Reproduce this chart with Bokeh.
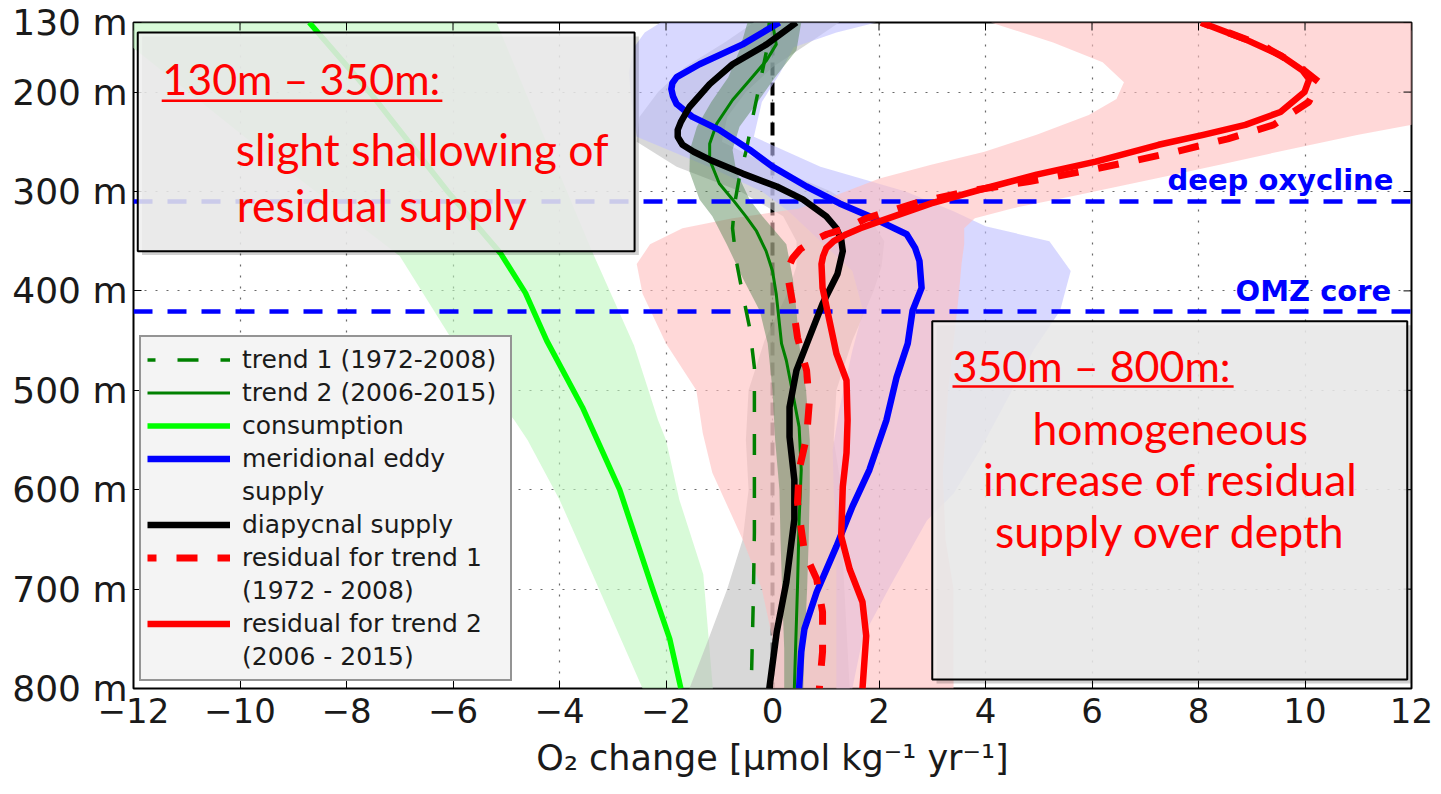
import math
from bokeh.plotting import figure
from bokeh.models import (Range1d, FixedTicker, Legend, LegendItem, BoxAnnotation, Label)
from bokeh.embed import file_html
from bokeh.resources import INLINE

# ---------------- data ----------------
x_ticks = [-12, -10, -8, -6, -4, -2, 0, 2, 4, 6, 8, 10, 12]
x_tick_labels = ["\u221212", "\u221210", "\u22128", "\u22126", "\u22124", "\u22122",
                 "0", "2", "4", "6", "8", "10", "12"]
depth_ticks = [130, 200, 300, 400, 500, 600, 700, 800]
depth_tick_labels = ["130 m", "200 m", "300 m", "400 m", "500 m", "600 m", "700 m", "800 m"]

reference_depths = [310, 421]          # deep oxycline, OMZ core
zero_line = [0]

# trend 1 (1972-2008), dashed dark green
trend1_depth = [130, 158, 192, 225, 258, 285, 312, 337, 370, 403, 437, 477, 560, 643, 710, 800]
trend1_val = [-0.06, -0.11, -0.24, -0.37, -0.49, -0.62, -0.71, -0.75, -0.68, -0.56, -0.43,
              -0.34, -0.34, -0.34, -0.36, -0.40]

# trend 2 (2006-2015), solid dark green
trend2_depth = [130, 152, 168, 188, 208, 232, 252, 268, 292, 308, 325, 340, 360, 380, 403,
                453, 470, 503, 537, 580, 630, 697, 800]
trend2_val = [0.00, 0.07, -0.11, -0.43, -0.75, -1.05, -1.18, -1.18, -1.00, -0.75, -0.50,
              -0.30, -0.12, 0.00, 0.07, 0.17, 0.26, 0.38, 0.50, 0.54, 0.50, 0.47, 0.41]
trend2_band_depth = [130, 158, 185, 210, 235, 258, 280, 308, 325, 353, 387, 420, 453, 500,
                     550, 600, 650, 700, 760, 800]
trend2_band_lo = [-0.47, -0.62, -0.83, -1.15, -1.42, -1.55, -1.56, -1.37, -1.13, -0.86, -0.56,
                  -0.24, -0.09, 0.00, 0.05, 0.13, 0.15, 0.18, 0.22, 0.22]
trend2_band_hi = [0.54, 0.45, 0.05, -0.28, -0.62, -0.75, -0.68, -0.43, -0.19, 0.26, 0.38,
                  0.45, 0.50, 0.63, 0.70, 0.70, 0.68, 0.65, 0.60, 0.58]

# consumption, bright green
consumption_depth = [130, 201, 300, 362, 402, 450, 517, 600, 700, 750, 800]
consumption_val = [-8.70, -7.55, -6.10, -5.11, -4.64, -4.24, -3.57, -2.87, -2.25, -1.93, -1.72]
consumption_band_depth = [130, 250, 365, 455, 530, 550, 610, 685, 800]
consumption_band_lo = [-12.6, -9.8, -7.0, -5.95, -4.85, -4.6, -4.0, -3.38, -2.44]
consumption_band_hi = [-5.18, -4.25, -3.35, -2.6, -2.15, -2.0, -1.75, -1.3, -1.12]

# meridional eddy supply, blue
eddy_depth = [130, 152, 172, 185, 191, 197, 204, 212, 225, 238, 258, 275, 295, 312, 325, 343,
              357, 370, 397, 420, 453, 487, 530, 580, 617, 657, 703, 740, 763, 800]
eddy_val = [0.13, -0.56, -1.37, -1.80, -1.88, -1.90, -1.87, -1.80, -1.50, -1.00, -0.43, 0.00,
            0.64, 1.26, 1.82, 2.52, 2.68, 2.76, 2.80, 2.63, 2.54, 2.33, 2.14, 1.82, 1.50, 1.20,
            0.83, 0.60, 0.54, 0.50]
eddy_band_depth = [130, 140, 155, 180, 210, 245, 275, 300, 320, 335, 350, 380, 420, 460, 520,
                   560, 604, 631, 698, 748, 800]
eddy_band_lo = [-2.1, -2.4, -2.6, -2.7, -2.65, -2.55, -1.2, -0.2, 0.3, 0.6, 0.9, 1.5, 1.7, 1.5,
                1.25, 1.13, 1.15, 1.2, 1.2, 1.2, 1.2]
eddy_band_hi = [1.95, 1.2, 0.4, 0.15, -0.2, -0.35, 0.9, 2.5, 3.4, 4.0, 5.2, 5.6, 5.4, 4.9, 4.3,
                3.9, 3.4, 2.9, 2.2, 1.7, 1.5]

# diapycnal supply, black
diapycnal_depth = [130, 152, 172, 192, 215, 230, 238, 245, 253, 260, 268, 282, 295, 308, 325,
                   337, 348, 360, 383, 413, 447, 480, 517, 547, 590, 630, 693, 743, 800]
diapycnal_val = [0.45, -0.11, -0.75, -1.18, -1.56, -1.72, -1.78, -1.78, -1.69, -1.48, -1.18,
                 -0.56, 0.08, 0.57, 1.01, 1.20, 1.29, 1.32, 1.22, 0.94, 0.69, 0.45, 0.32, 0.32,
                 0.41, 0.41, 0.26, 0.08, -0.06]
diapycnal_band_depth = [130, 150, 175, 200, 225, 250, 275, 300, 325, 350, 375, 400, 450, 500,
                        550, 600, 650, 700, 750, 800]
diapycnal_band_lo = [-0.35, -0.9, -1.65, -2.15, -2.5, -2.55, -1.8, -0.6, 0.2, 0.45, 0.45, 0.3,
                     -0.15, -0.45, -0.5, -0.45, -0.56, -0.85, -1.2, -1.56]
diapycnal_band_hi = [1.25, 0.7, 0.0, -0.5, -0.85, -0.95, 0.0, 1.1, 1.8, 2.1, 2.05, 1.9, 1.5,
                     1.2, 1.15, 1.3, 1.3, 1.35, 1.4, 1.45]

# residual for trend 1 (1972-2008), red dashed
res1_depth = [130, 153, 173, 190, 210, 233, 247, 260, 270, 280, 290, 300, 312, 327, 337, 343,
              350, 358, 367, 375, 383, 413, 447, 480, 513, 547, 580, 613, 663, 690, 723, 763,
              800]
res1_val = [8.05, 9.20, 9.86, 10.26, 10.07, 9.41, 8.55, 7.57, 6.72, 5.80, 4.82, 3.64, 2.67,
            1.76, 1.39, 1.02, 0.75, 0.52, 0.38, 0.31, 0.28, 0.38, 0.47, 0.64, 0.69, 0.64, 0.50,
            0.47, 0.60, 0.83, 0.94, 0.94, 0.88]

# residual for trend 2 (2006-2015), red solid
res2_depth = [130, 147, 163, 178, 187, 200, 220, 233, 243, 253, 270, 283, 297, 312, 330, 337,
              343, 350, 357, 365, 373, 397, 430, 463, 490, 530, 563, 597, 647, 680, 713, 747,
              800]
res2_val = [8.05, 8.88, 9.54, 9.95, 10.08, 9.99, 9.54, 8.88, 8.09, 7.25, 6.07, 4.96, 3.98,
            2.98, 2.01, 1.65, 1.39, 1.15, 1.01, 0.95, 0.92, 0.94, 1.07, 1.20, 1.39, 1.41, 1.39,
            1.32, 1.29, 1.45, 1.69, 1.76, 1.69]
residual_band_depth = [130, 150, 170, 190, 207, 223, 243, 260, 273, 287, 305, 317, 327, 337,
                       353, 373, 403, 453, 500, 543, 583, 650, 700, 750, 800]
residual_band_lo = [4.1, 5.27, 6.2, 6.6, 6.46, 5.94, 4.96, 3.98, 2.98, 2.01, 1.13, 0.5, -0.75,
                    -1.69, -2.3, -2.55, -2.44, -2.0, -1.43, -1.31, -1.13, -0.56, -0.2, 0.0, 0.0]
residual_band_hi = [13, 13, 13, 13, 13, 13, 11.0, 9.5, 8.4, 7.2, 5.6, 4.5, 3.8, 3.6, 3.6, 3.55,
                    3.5, 3.4, 3.3, 3.25, 3.2, 3.25, 3.4, 3.4, 3.4]

# ---------------- figure ----------------
TICK_FONT = "DejaVu Sans"
x_range = Range1d(-12, 12)
y_range = Range1d(800, 130)
p = figure(width=1433, height=786, output_backend="svg", toolbar_location=None,
           x_range=x_range, y_range=y_range,
           min_border_left=133, min_border_right=22, min_border_top=22,
           min_border_bottom=98, background_fill_color="white",
           border_fill_color="white")

p.outline_line_color = "black"
p.outline_line_width = 2
p.outline_line_alpha = 1

# axes
p.xaxis.ticker = FixedTicker(ticks=x_ticks)
p.xaxis.major_label_overrides = {t: l for t, l in zip(x_ticks, x_tick_labels)}
p.yaxis.ticker = FixedTicker(ticks=depth_ticks)
p.yaxis.major_label_overrides = {t: l for t, l in zip(depth_ticks, depth_tick_labels)}
for ax in (p.xaxis, p.yaxis):
    ax.major_label_text_font = TICK_FONT
    ax.major_label_text_color = "#1a1a1a"
    ax.major_tick_in = 8
    ax.major_tick_out = 0
    ax.major_tick_line_color = "black"
    ax.minor_tick_line_color = None
    ax.axis_line_color = None
p.yaxis.major_label_text_font_size = "36px"
p.xaxis.major_label_text_font_size = "34px"
p.yaxis.major_label_standoff = 6
p.xaxis.major_label_standoff = 9
p.xaxis.axis_label = "O\u2082 change [\u03bcmol kg\u207b\u00b9 yr\u207b\u00b9]"
p.xaxis.axis_label_text_font = TICK_FONT
p.xaxis.axis_label_text_font_size = "35px"
p.xaxis.axis_label_text_font_style = "normal"
p.xaxis.axis_label_text_color = "#1a1a1a"
p.xaxis.axis_label_standoff = 12

# grid
p.xgrid.ticker = FixedTicker(ticks=x_ticks)
p.ygrid.ticker = FixedTicker(ticks=depth_ticks)
for g in (p.xgrid, p.ygrid):
    g.grid_line_color = "#444444"
    g.grid_line_dash = "2 9"
    g.grid_line_width = 1.2
    g.grid_line_alpha = 0.8

# zero line (under the shading)
p.vspan(x=zero_line, line_color="black", line_width=4, line_dash="13 7")

# shading
p.harea(x1=consumption_band_lo, x2=consumption_band_hi, y=consumption_band_depth,
        fill_color="#bef7be", fill_alpha=0.6)
p.harea(x1=diapycnal_band_lo, x2=diapycnal_band_hi, y=diapycnal_band_depth,
        fill_color="#bebebe", fill_alpha=0.6)
p.harea(x1=eddy_band_lo, x2=eddy_band_hi, y=eddy_band_depth,
        fill_color="#bebeff", fill_alpha=0.6)
p.harea(x1=residual_band_lo, x2=residual_band_hi, y=residual_band_depth,
        fill_color="#ffbebe", fill_alpha=0.6)
p.harea(x1=trend2_band_lo, x2=trend2_band_hi, y=trend2_band_depth,
        fill_color="#4d804d", fill_alpha=0.45)

# reference depths
p.hspan(y=reference_depths, line_color="#0000ff", line_width=4.5, line_dash="19 15")

# lines
r_t1 = p.line(trend1_val, trend1_depth, line_color="#008000", line_width=3.5,
              line_dash="21 22", line_dash_offset=13)
r_t2 = p.line(trend2_val, trend2_depth, line_color="#008000", line_width=3)
r_cons = p.line(consumption_val, consumption_depth, line_color="#00ff00", line_width=5.5)
r_eddy = p.line(eddy_val, eddy_depth, line_color="#0000ff", line_width=6.5)
r_dia = p.line(diapycnal_val, diapycnal_depth, line_color="black", line_width=6.5)
r_res1 = p.line(res1_val, res1_depth, line_color="#ff0000", line_width=7,
                line_dash="21 20", line_dash_offset=12)
r_res2 = p.line(res2_val, res2_depth, line_color="#ff0000", line_width=6.5)
r_blank = p.line([], [], line_alpha=0)

for r in (r_t1, r_t2, r_cons, r_eddy, r_dia, r_res1, r_res2):
    r.glyph.line_join = "round"

# inward ticks on the top and right edges of the box
p.scatter(x=x_ticks, y=[y_range.end] * len(x_ticks), marker="dash", angle=math.pi / 2,
          size=16, line_color="black", line_width=1)
p.scatter(x=[x_range.end] * len(depth_ticks), y=depth_ticks, marker="dash",
          size=16, line_color="black", line_width=1)


def lift(depth, size_px):
    # Label places the text box bottom at y; move it so the glyph baseline lands at depth
    return depth - 0.34 * size_px


# labels of reference depths
p.add_layout(Label(x=11.66, y=lift(298, 29), text="deep oxycline", text_align="right",
                   text_baseline="alphabetic", text_font=TICK_FONT, text_font_size="29px",
                   text_font_style="bold", text_color="#0000ff"))
p.add_layout(Label(x=11.62, y=lift(410, 29), text="OMZ core", text_align="right",
                   text_baseline="alphabetic", text_font=TICK_FONT, text_font_size="29px",
                   text_font_style="bold", text_color="#0000ff"))

# text boxes
BOX_FONT = "Lato"


def text_box(left, right, top, bottom):
    p.add_layout(BoxAnnotation(left=left + 0.08, right=right + 0.08, top=top + 4,
                               bottom=bottom + 4, fill_color="black", fill_alpha=0.18,
                               line_alpha=0))
    p.add_layout(BoxAnnotation(left=left, right=right, top=top, bottom=bottom,
                               fill_color="#efefef", fill_alpha=0.85,
                               line_color="black", line_width=2, line_alpha=1))


def red_text(x, y, txt, size, align="left"):
    p.add_layout(Label(x=x, y=lift(y, size), text=txt, text_align=align,
                       text_baseline="alphabetic", text_font=BOX_FONT,
                       text_font_size=f"{size}px", text_color="#ff0000"))


text_box(-11.92, -2.59, 140, 360)
red_text(-11.46, 201, "130m \u2013 350m:", 43)
p.add_layout(BoxAnnotation(left=-11.47, right=-6.2, top=207.5, bottom=210, fill_color="#ff0000",
                           fill_alpha=1, line_alpha=0))
red_text(-10.08, 272, "slight shallowing of", 44.5)
red_text(-10.06, 328, "residual supply", 44.5)

text_box(3.0, 11.92, 430.5, 791)
red_text(3.38, 489.5, "350m \u2013 800m:", 43)
p.add_layout(BoxAnnotation(left=3.38, right=8.66, top=495, bottom=497.5, fill_color="#ff0000",
                           fill_alpha=1, line_alpha=0))
red_text(7.47, 553, "homogeneous", 44.5, "center")
red_text(7.47, 604, "increase of residual", 44.5, "center")
red_text(7.47, 656, "supply over depth", 44.5, "center")

# legend
legend = Legend(items=[
    LegendItem(label="trend 1 (1972-2008)", renderers=[r_t1]),
    LegendItem(label="trend 2 (2006-2015)", renderers=[r_t2]),
    LegendItem(label="consumption", renderers=[r_cons]),
    LegendItem(label="meridional eddy", renderers=[r_eddy]),
    LegendItem(label="supply", renderers=[r_blank]),
    LegendItem(label="diapycnal supply", renderers=[r_dia]),
    LegendItem(label="residual for trend 1", renderers=[r_res1]),
    LegendItem(label="(1972 - 2008)", renderers=[r_blank]),
    LegendItem(label="residual for trend 2", renderers=[r_res2]),
    LegendItem(label="(2006 - 2015)", renderers=[r_blank]),
], location=(6, 7))
legend.margin = 0
legend.padding = 6
legend.spacing = 0
legend.label_height = 33
legend.glyph_height = 33
legend.glyph_width = 83
legend.label_standoff = 12
legend.label_width = 262
legend.label_text_font = TICK_FONT
legend.label_text_font_size = "25px"
legend.label_text_color = "#1a1a1a"
legend.background_fill_color = "#f4f4f4"
legend.background_fill_alpha = 1
legend.border_line_color = "#333333"
legend.border_line_width = 2
p.add_layout(legend, "center")

open("out.html", "w").write(file_html(p, INLINE))
